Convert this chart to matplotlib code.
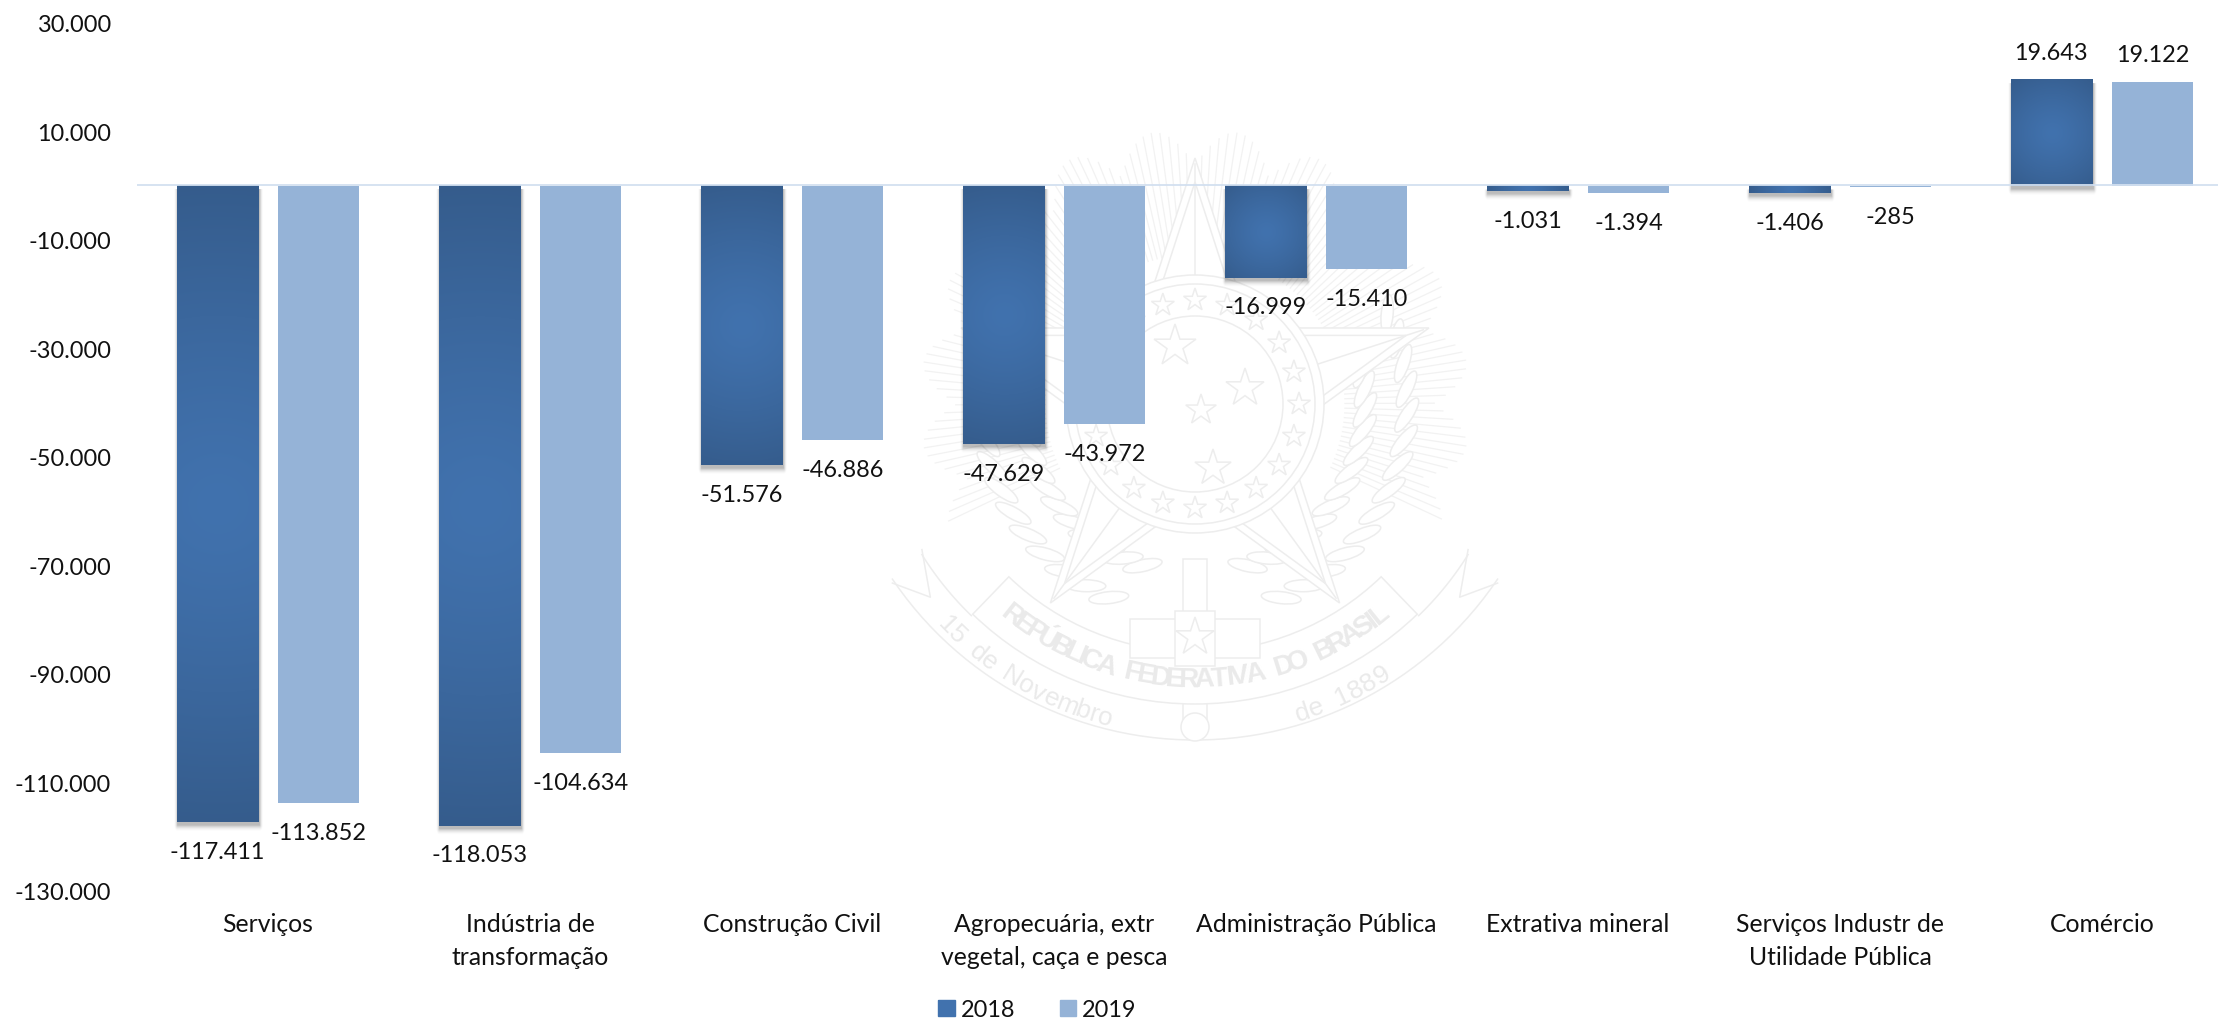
import numpy as np
import matplotlib
matplotlib.use("Agg")
import matplotlib.pyplot as plt
from matplotlib.font_manager import FontProperties
from matplotlib.patches import Patch, Circle, Polygon, Ellipse, Rectangle, Wedge
from matplotlib.textpath import TextPath

plt.rcParams['font.family'] = ['Lato', 'DejaVu Sans']

categorias = ['Serviços', 'Indústria de\ntransformação', 'Construção Civil',
              'Agropecuária, extr\nvegetal, caça e pesca', 'Administração Pública',
              'Extrativa mineral', 'Serviços Industr de\nUtilidade Pública', 'Comércio']
v2018 = [-117411, -118053, -51576, -47629, -16999, -1031, -1406, 19643]
v2019 = [-113852, -104634, -46886, -43972, -15410, -1394, -285, 19122]
anos = ['2018', '2019']
yticks = [-130000, -110000, -90000, -70000, -50000, -30000, -10000, 10000, 30000]

W, H = 2218, 1020
FS = 16.9
FS_CAT = 17.8
ESCURO = np.array([0x35, 0x5C, 0x8C]) / 255
CENTRO = np.array([0x41, 0x72, 0xAE]) / 255
CLARO = '#95B3D7'
LINHA = '#D3E0F0'
CINZA = '#EDEDED'
PRETO = '#111111'


def fmt(v):
    return f'{v:,}'.replace(',', '.')


def gradiente(ax, x0, x1, y0, y1, wpx, hpx, zorder):
    # radial, centro mais claro e cantos escuros
    ny, nx = max(int(hpx), 2), max(int(wpx), 2)
    yy, xx = np.mgrid[0:ny, 0:nx]
    d = np.hypot(xx - nx / 2, yy - ny / 2) / (np.hypot(nx, ny) / 2)
    t = np.clip(d, 0, 1)[..., None] ** 1.3
    img = CENTRO * (1 - t) + ESCURO * t
    ax.imshow(img, extent=(x0, x1, y0, y1), aspect='auto', zorder=zorder, interpolation='bilinear')


def sombra(ax, x0, x1, y0, y1, px_x, px_y, zorder):
    # sombra difusa, so para os lados e para baixo
    pad, desce = 9, 2
    wpx, hpx = (x1 - x0) * px_x, (y1 - y0) * px_y
    nx, ny = int(wpx) + 2 * pad, int(hpx) + 2 * pad
    yy, xx = np.mgrid[0:ny, 0:nx]
    dx = np.maximum(np.maximum(pad - xx, xx - (pad + wpx)), 0)
    dy = np.maximum(yy - (pad + hpx), 0)
    a = 0.27 * np.clip(1 - np.hypot(dx * 1.8, dy) / 7, 0, 1) ** 2
    a[:pad + desce, :] = 0
    img = np.zeros((ny, nx, 4))
    img[..., 3] = a
    ax.imshow(img, extent=(x0 - pad / px_x, x1 + pad / px_x,
                           y0 - (pad + desce) / px_y, y1 + (pad - desce) / px_y),
              aspect='auto', zorder=zorder, interpolation='bilinear')


def estrela(cx, cy, r, rot=90, ratio=0.382):
    pts = []
    for i in range(10):
        a = np.radians(rot + i * 36)
        rr = r if i % 2 == 0 else r * ratio
        pts.append((cx + rr * np.cos(a), cy - rr * np.sin(a)))
    return pts


def texto_curvo(ax, s, cx, cy, R, a0, a1, size, bold=False):
    fp = FontProperties(family='Liberation Sans', weight='bold' if bold else 'normal')
    larg = [TextPath((0, 0), 'n' if c == ' ' else c, size=1, prop=fp).get_extents().width + 0.12 for c in s]
    total = sum(larg)
    acum = 0
    for ch, l in zip(s, larg):
        a = np.radians(a0 + (a1 - a0) * (acum + l / 2) / total)
        acum += l
        ax.text(cx + R * np.sin(a), cy + R * np.cos(a), ch, rotation=np.degrees(a),
                rotation_mode='anchor', ha='center', va='center', fontsize=size, color='#EAEAEA',
                family=['Liberation Sans'], fontweight='bold' if bold else 'normal', zorder=8)


def arco(ax, cx, cy, R, a0, a1, z=4):
    t = np.radians(np.linspace(a0, a1, 60))
    ax.plot(cx + R * np.sin(t), cy + R * np.cos(t), color=CINZA, lw=1.1, zorder=z)


def brasao(ax):
    cx, cy = 1195, 405
    lw = 1.1
    # raios atras da estrela
    for a in np.arange(-25, 206, 1.8):
        ar = np.radians(a)
        r1 = 238 + 36 * abs(np.sin(np.radians(a * 10)))
        ax.plot([cx + 150 * np.cos(ar), cx + r1 * np.cos(ar)], [cy - 150 * np.sin(ar), cy - r1 * np.sin(ar)],
                color='#F2F2F2', lw=0.9, zorder=1)
    # ramos
    for lado in (-1, 1):
        for R, off in ((170, 0), (212, 6)):
            for a in np.arange(-72, 22, 7):
                ar = np.radians(a + off)
                x, y = cx + lado * R * np.cos(ar), cy - R * np.sin(ar)
                ang = (a + off + 60) * lado
                ax.add_patch(Ellipse((x, y), 40, 12, angle=-ang, fc='white', ec=CINZA, lw=lw, zorder=2))
    # estrela grande
    ax.add_patch(Polygon(estrela(cx, cy, 246), closed=True, fc='white', ec=CINZA, lw=lw, zorder=3))
    ax.add_patch(Polygon(estrela(cx, cy, 222), closed=True, fill=False, ec=CINZA, lw=lw, zorder=3))
    for i in range(5):
        a = np.radians(90 + i * 72)
        ax.plot([cx + 120 * np.cos(a), cx + 240 * np.cos(a)], [cy - 120 * np.sin(a), cy - 240 * np.sin(a)],
                color=CINZA, lw=lw, zorder=3)
    # circulos
    for r in (129, 120):
        ax.add_patch(Circle((cx, cy), r, fc='white', ec=CINZA, lw=lw, zorder=4))
    for i in range(20):
        a = 90 + i * 18
        ax.add_patch(Polygon(estrela(cx + 104 * np.cos(np.radians(a)), cy - 104 * np.sin(np.radians(a)), 12),
                             closed=True, fill=False, ec=CINZA, lw=lw, zorder=4))
    ax.add_patch(Circle((cx, cy), 88, fc='white', ec=CINZA, lw=lw, zorder=4))
    for x, y, r in ((1175, 347, 22), (1245, 389, 20), (1201, 411, 16), (1213, 469, 19)):
        ax.add_patch(Polygon(estrela(x, y, r), closed=True, fill=False, ec=CINZA, lw=lw, zorder=5))
    # espada e laco
    ax.add_patch(Rectangle((cx - 12, 560), 24, 165, fc='white', ec=CINZA, lw=lw, zorder=4.5))
    ax.add_patch(Circle((cx, 728), 14, fc='white', ec=CINZA, lw=lw, zorder=5))
    # faixas (eixo y invertido, angulos medidos ao contrario)
    ax.add_patch(Wedge((cx, 385), 320, 90 - 44, 90 + 44, width=52, fc='white', ec=CINZA, lw=lw, zorder=5))
    ax.add_patch(Rectangle((1130, 620), 130, 39, fc='white', ec=CINZA, lw=lw, zorder=6))
    ax.add_patch(Rectangle((1175, 612), 40, 55, fc='white', ec=CINZA, lw=lw, zorder=6))
    ax.add_patch(Polygon(estrela(cx, 638, 20), closed=True, fc='white', ec=CINZA, lw=lw, zorder=7))
    arco(ax, cx, 376, 365, -56, 56)
    for lado in (-1, 1):
        arco(ax, cx, 385, 322, lado * 44, lado * 58)
        t = np.radians(lado * np.array([56.0, 50.5, 58.0]))
        rr = np.array([365.0, 343.0, 322.0])
        ax.plot(cx + rr * np.sin(t), 380 + rr * np.cos(t), color=CINZA, lw=lw, zorder=4)
    texto_curvo(ax, 'REPÚBLICA FEDERATIVA DO BRASIL', cx, 385, 295, -40, 40, 20, bold=True)
    texto_curvo(ax, '15 de Novembro', cx, 385, 345, -47, -14, 19)
    texto_curvo(ax, 'de 1889', cx, 385, 345, 17, 34, 19)


fig = plt.figure(figsize=(W / 100, H / 100), dpi=100, facecolor='white')

# fundo em pixels, marca d'agua
fundo = fig.add_axes([0, 0, 1, 1], zorder=0)
fundo.set_xlim(0, W)
fundo.set_ylim(H, 0)
fundo.axis('off')
brasao(fundo)

topo, base = 24, 891.5
ax = fig.add_axes([137 / W, 1 - base / H, 1 - 137 / W, (base - topo) / H], zorder=1)
ax.patch.set_alpha(0)
xlim = (-0.5, -0.5 + (W - 137) / 262)
x = np.arange(len(categorias))
larg = 0.31
desl = 0.193

b18 = ax.bar(x - desl, v2018, larg, color=ESCURO, label=anos[0], zorder=3)
b19 = ax.bar(x + desl, v2019, larg, color=CLARO, label=anos[1], zorder=3)

px_x = (W - 137) / (xlim[1] - xlim[0])
px_y = (base - topo) / 160000
for b in b18:
    x0, x1 = b.get_x(), b.get_x() + b.get_width()
    y0, y1 = sorted((b.get_y(), b.get_y() + b.get_height()))
    sombra(ax, x0, x1, y0, y1, px_x, px_y, 1)
    gradiente(ax, x0, x1, y0, y1, (x1 - x0) * px_x, (y1 - y0) * px_y, 3)
ax.set_xlim(*xlim)
ax.set_ylim(-130000, 30000)

# linha do zero um pixel acima, por cima das barras
ax.axhline(1 / px_y, color=LINHA, lw=1.3, zorder=4)

for barras, vals in ((b18, v2018), (b19, v2019)):
    for b, v in zip(barras, vals):
        dy = 19.5 if v > 0 else -21
        ax.annotate(fmt(v), (b.get_x() + b.get_width() / 2, v), xytext=(0, dy),
                    textcoords='offset points', ha='center', va='center', fontsize=FS, color=PRETO, zorder=6)

ax.set_yticks(yticks)
ax.set_yticklabels([fmt(v) for v in yticks], fontsize=FS, color=PRETO)
ax.set_xticks(x)
ax.set_xticklabels(categorias, fontsize=FS_CAT, color=PRETO, linespacing=1.5)
ax.tick_params(axis='y', length=0, pad=18.7)
ax.tick_params(axis='x', length=0, pad=15.5)
for s in ax.spines.values():
    s.set_visible(False)

leg = fig.legend(handles=[Patch(color=CENTRO, label=anos[0]), Patch(color=CLARO, label=anos[1])],
                 loc='center', bbox_to_anchor=(1037.5 / W, 1 - 1011 / H), ncol=2, frameon=False,
                 fontsize=FS, handlelength=0.69, handleheight=0.69, handletextpad=0.26,
                 columnspacing=1.9, borderpad=0, labelcolor=PRETO)

# gradiente tambem na legenda
fig.canvas.draw()
bb = leg.legend_handles[0].get_window_extent()
hax = fig.add_axes([bb.x0 / W, bb.y0 / H, bb.width / W, bb.height / H], zorder=3)
hax.axis('off')
gradiente(hax, 0, 1, 0, 1, 16, 16, 1)

fig.savefig('out.png', dpi=100)
